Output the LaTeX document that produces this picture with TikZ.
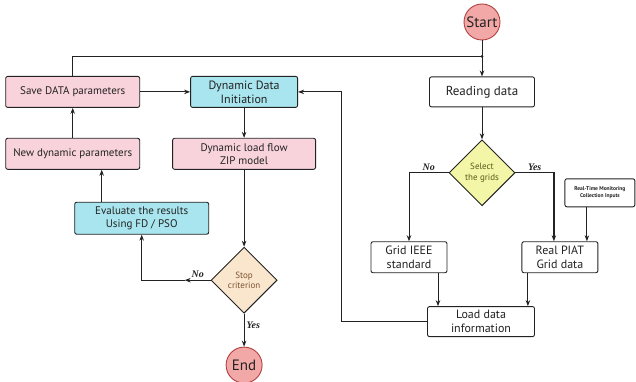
\documentclass[tikz,border=0pt]{standalone}
\usepackage{fontspec}
\setmainfont{PT Sans}
\newfontfamily\yesnofont{Liberation Serif}
\usetikzlibrary{positioning,shapes.geometric,arrows.meta,calc}

\definecolor{boxpink}{HTML}{F9D3DC}
\definecolor{boxcyan}{HTML}{A9E5EE}
\definecolor{selfill}{HTML}{F3F6A6}
\definecolor{seltext}{HTML}{5C5A1E}
\definecolor{stopfill}{HTML}{F9E6CC}
\definecolor{stoptext}{HTML}{7E5232}
\definecolor{termfill}{HTML}{F3A8A8}
\definecolor{termline}{HTML}{B0403E}
\definecolor{inkline}{HTML}{222222}

\tikzset{
  box/.style={draw=inkline, line width=0.9pt, rounded corners=2pt, align=center, inner sep=2pt, text=inkline, font=\fontsize{11}{13}\selectfont},
  pinkbox/.style={box, fill=boxpink},
  cyanbox/.style={box, fill=boxcyan},
  plainbox/.style={box, fill=white},
  decision/.style={diamond, draw=inkline, line width=0.9pt, minimum width=66pt, minimum height=66pt, inner sep=0pt, align=center, font=\fontsize{9}{10.5}\selectfont},
  terminal/.style={circle, draw=termline, fill=termfill, line width=0.9pt, minimum size=36pt, inner sep=0pt, text=inkline, font=\fontsize{15}{15}\selectfont},
  answer/.style={inner sep=2pt, text=inkline, font=\yesnofont\bfseries\itshape\fontsize{10}{10}\selectfont},
  flow/.style={->, line width=0.9pt, draw=inkline},
}

\begin{document}
\begin{tikzpicture}[>={Stealth[length=6pt,width=4.5pt]}]
    \useasboundingbox (0,0) rectangle (636pt,-382pt);
    % right branch
    \node[terminal] (start) at (482pt,-22pt) {Start};
    \node[plainbox, below=36pt of start, minimum width=105pt, minimum height=30pt, font=\fontsize{13}{14}\selectfont] (read) {Reading data};
    \node[decision, fill=selfill, text=seltext, below=32pt of read] (select) {Select\\the grids};
    \node[plainbox, below=35pt of select, xshift=-73pt, minimum width=76pt, minimum height=31pt, font=\fontsize{12}{14}\selectfont] (grid) {Grid IEEE\\standard};
    \node[plainbox, right=74pt of grid, minimum width=76pt, minimum height=31pt, font=\fontsize{12}{14}\selectfont] (piat) {Real PIAT\\Grid data};
    \node[plainbox, below=33pt of grid, xshift=72pt, minimum width=107pt, minimum height=30pt, font=\fontsize{12}{14}\selectfont] (load) {Load data\\information};
    \node[plainbox, above=34pt of piat, xshift=40pt, minimum width=70pt, minimum height=28pt, font=\bfseries\fontsize{5.5}{6.5}\selectfont] (monitor) {Real-Time Monitoring\\Collection Inputs};
    % left loop
    \node[cyanbox, left=131pt of read, minimum width=107pt, minimum height=31pt, font=\fontsize{12}{14}\selectfont] (init) {Dynamic Data\\Initiation};
    \node[pinkbox, left=50pt of init, minimum width=134pt, minimum height=31pt] (save) {Save DATA parameters};
    \node[pinkbox, below=30pt of save, minimum width=134pt, minimum height=31pt] (newpar) {New dynamic parameters};
    \node[pinkbox, below=30pt of init, minimum width=143pt, minimum height=31pt] (zip) {Dynamic load flow\\ZIP model};
    \node[cyanbox, below=32pt of newpar, xshift=69pt, minimum width=134pt, minimum height=32pt, font=\fontsize{11}{12.5}\selectfont] (eval) {Evaluate the results\\Using FD / PSO};
    \node[decision, fill=stopfill, text=stoptext, below=77pt of zip] (stop) {Stop\\criterion};
    \node[terminal, below=33pt of stop] (end) {End};

    \coordinate[below=16pt of start] (jn);
    \draw[flow] (start) -- (read);
    \draw[line width=0.9pt, draw=inkline] (save.north) |- (jn);
    \fill[inkline] (jn) circle (1.5pt);
    \draw[flow] (save) -- (init);
    \draw[flow] (init) -- (zip);
    \draw[flow] (zip) -- (stop);
    \draw[flow] (stop) -- node[answer, right, pos=0.35] {Yes} (end);
    \draw[flow] (stop.west) -- node[answer, above] {No} ++(-26pt,0) coordinate (nomid);
    \draw[flow] (nomid) -| (eval.south);
    \draw[flow] ([xshift=-40pt]eval.north) -- ([xshift=-40pt]eval.north |- newpar.south);
    \draw[flow] (newpar) -- (save);
    \draw[flow] (read) -- (select);
    \draw[flow] (select.west) -| node[answer, pos=0.25, above] {No} (grid.north);
    \draw[flow, line width=1.3pt] (select.east) -| node[answer, pos=0.25, above] {Yes} ([xshift=-6pt]piat.north);
    \draw[flow] ([xshift=-13pt]monitor.south) -- ([xshift=-13pt]monitor.south |- piat.north);
    \draw[flow] ([xshift=29pt]grid.south) -- ([xshift=29pt]grid.south |- load.north);
    \draw[flow] ([xshift=-32pt]piat.south) -- ([xshift=-32pt]piat.south |- load.north);
    \draw[flow] (load.west) -- ++(-86pt,0) |- (init.east);
\end{tikzpicture}
\end{document}
